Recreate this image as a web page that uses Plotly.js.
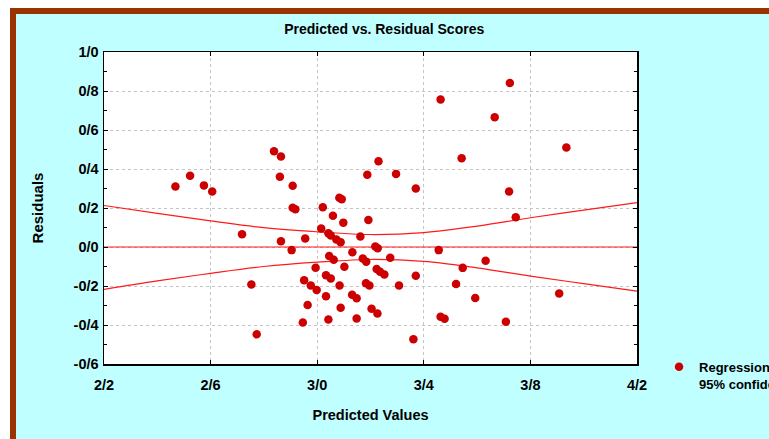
<!DOCTYPE html>
<html>
<head>
<meta charset="utf-8">
<script src="https://cdn.plot.ly/plotly-3.0.1.min.js"></script>
<style>
  html, body { margin: 0; padding: 0; background: #ffffff; width: 769px; height: 439px; overflow: hidden; }
  #frame { position: absolute; left: 10px; top: 8px; width: 759px; height: 431px;
           border-left: 6px solid #993300; border-top: 6px solid #993300; background: #c0ffff; box-sizing: border-box; overflow: hidden; }
  #chart { position: absolute; left: 0; top: 0; width: 753px; height: 425px; }
</style>
</head>
<body>
<div id="frame"><div id="chart"></div></div>
<script>
// Predicted values (x) and residuals (y)
const predicted = [2.468, 2.523, 2.575, 2.606, 2.838, 2.864, 2.860, 2.908, 2.908, 2.918,
  3.021, 3.059, 3.083, 3.092, 3.188, 3.230, 3.192, 3.098, 2.718, 3.015,
  3.042, 3.051, 3.072, 3.088, 3.162, 2.864, 2.955, 2.904, 3.218, 3.227,
  3.132, 3.045, 3.062, 3.171, 3.184, 3.274, 3.456, 3.632, 3.546, 2.994,
  3.102, 3.223, 3.236, 3.252, 3.370, 3.033, 3.051, 2.951, 2.976, 2.998,
  3.084, 3.183, 3.196, 3.307, 2.753, 3.521, 3.908, 3.593, 3.033, 3.131,
  3.148, 2.964, 3.088, 3.204, 3.226, 3.463, 3.478, 3.708, 2.946, 3.042,
  3.148, 2.773, 3.361, 3.296, 3.370, 3.463, 3.542, 3.666, 3.723, 3.720,
  3.935, 3.745];
const residuals = [0.310, 0.365, 0.316, 0.285, 0.491, 0.464, 0.360, 0.314, 0.201, 0.194,
  0.204, 0.160, 0.252, 0.245, 0.370, 0.440, 0.139, 0.125, 0.065, 0.095,
  0.070, 0.059, 0.039, 0.025, 0.054, 0.029, 0.044, -0.016, 0.003, -0.006,
  -0.027, -0.046, -0.065, -0.059, -0.075, -0.055, -0.016, -0.071, -0.107, -0.106,
  -0.101, -0.113, -0.127, -0.141, -0.148, -0.145, -0.161, -0.171, -0.197, -0.221,
  -0.197, -0.186, -0.197, -0.197, -0.192, -0.190, -0.238, -0.262, -0.253, -0.245,
  -0.263, -0.298, -0.311, -0.317, -0.341, -0.358, -0.368, -0.383, -0.387, -0.372,
  -0.367, -0.448, -0.473, 0.375, 0.300, 0.756, 0.455, 0.665, 0.841, 0.285,
  0.510, 0.152];

// Regression line (residual = 0) and 95% confidence limits
const fitX = [2.2, 4.2];
const fitY = [0, 0];
const bandX = [2.2, 2.4, 2.6, 2.8, 3.0, 3.2, 3.4, 3.6, 3.8, 4.0, 4.2];
const upperLimit = [0.213, 0.172, 0.134, 0.099, 0.078, 0.064, 0.074, 0.107, 0.150, 0.189, 0.228];
const lowerLimit = [-0.217, -0.174, -0.135, -0.100, -0.078, -0.064, -0.074, -0.107, -0.149, -0.188, -0.226];

// Tick labels (as shown in the reference)
const xTickVals = [2.2, 2.6, 3.0, 3.4, 3.8, 4.2];
const xTickText = ["2/2", "2/6", "3/0", "3/4", "3/8", "4/2"];
const yTickVals = [-0.6, -0.4, -0.2, 0.0, 0.2, 0.4, 0.6, 0.8, 1.0];
const yTickText = ["-0/6", "-0/4", "-0/2", "0/0", "0/2", "0/4", "0/6", "0/8", "1/0"];

const titleText = "Predicted vs. Residual Scores";
const xTitle = "Predicted Values";
const yTitle = "Residuals";
const legendName = "Regression<br>95% confidence limits";

const FONT = "Liberation Sans, Arial, sans-serif";
const RED_LINE = "#ff1a1a";

const traces = [
  { x: fitX, y: fitY, mode: "lines", line: { color: RED_LINE, width: 1.2 }, showlegend: false, hoverinfo: "skip" },
  { x: bandX, y: upperLimit, mode: "lines", line: { color: RED_LINE, width: 1.2, shape: "spline" }, showlegend: false, hoverinfo: "skip" },
  { x: bandX, y: lowerLimit, mode: "lines", line: { color: RED_LINE, width: 1.2, shape: "spline" }, showlegend: false, hoverinfo: "skip" },
  { x: predicted, y: residuals, mode: "markers", name: legendName,
    marker: { color: "#cc0000", size: 8.5, line: { width: 0 } } }
];

const axisCommon = {
  showline: true, linecolor: "#000000", linewidth: 1.5, mirror: "ticks",
  ticks: "inside", ticklen: 4, tickcolor: "#000000", tickwidth: 1,
  showgrid: true, gridcolor: "#c4c4c4", griddash: "dot", gridwidth: 1,
  zeroline: false, tickmode: "array", automargin: false,
  tickfont: { family: FONT, size: 14.5, color: "#000000", weight: "bold" }
};

const layout = {
  width: 753, height: 425,
  paper_bgcolor: "#c0ffff", plot_bgcolor: "#ffffff",
  margin: { l: 88, r: 132, t: 38, b: 75 },
  title: { text: titleText, xref: "container", x: 0.489, y: 0.965, yanchor: "middle", xanchor: "center", automargin: false,
           font: { family: FONT, size: 14, color: "#000000", weight: "bold" } },
  xaxis: Object.assign({}, axisCommon, {
    range: [2.2, 4.2], tickvals: xTickVals, ticktext: xTickText, ticklabelstandoff: 7,
    title: { text: xTitle, standoff: 18, font: { family: FONT, size: 14.5, color: "#000000", weight: "bold" } }
  }),
  yaxis: Object.assign({}, axisCommon, {
    range: [-0.6, 1.0], tickvals: yTickVals, ticktext: yTickText, ticklabelstandoff: 1,
    minor: { tickmode: "linear", tick0: -0.6, dtick: 0.1, ticks: "inside", ticklen: 3, tickcolor: "#000000", showgrid: false },
    title: { text: yTitle, standoff: 26, font: { family: FONT, size: 15, color: "#000000", weight: "bold" } }
  }),
  showlegend: true,
  legend: { xref: "container", yref: "container", x: 0.854, xanchor: "left", y: 0.205, yanchor: "top",
            bgcolor: "rgba(0,0,0,0)", valign: "top", tracegroupgap: 0,
            font: { family: FONT, size: 13, color: "#000000", weight: "bold" } }
};

Plotly.newPlot("chart", traces, layout, { displayModeBar: false, staticPlot: true });
</script>
</body>
</html>
